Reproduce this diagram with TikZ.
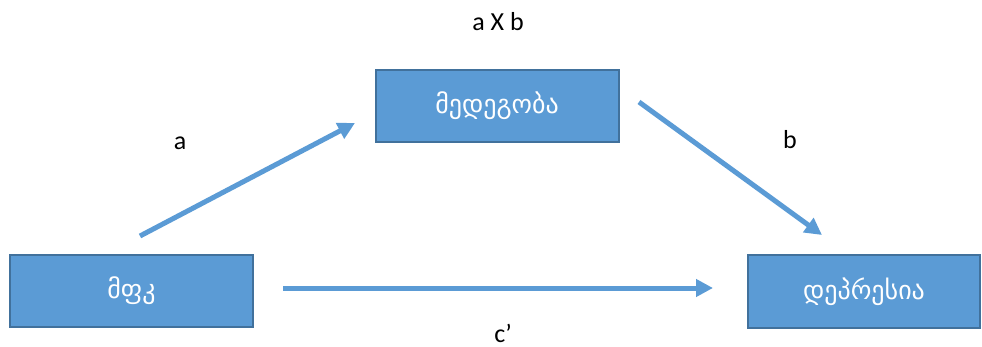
\documentclass[tikz,border=0pt]{standalone}
\usepackage{fontspec}
\setmainfont{Carlito}
\newfontfamily\geofont{DejaVu Sans}
\usetikzlibrary{arrows.meta, positioning}
\definecolor{boxblue}{HTML}{5B9BD5}
\definecolor{edgeblue}{HTML}{41719C}

\begin{document}
\begin{tikzpicture}[x=1pt, y=-1pt,
  every node/.style={font=\fontsize{26}{30}\selectfont},
  varbox/.style={draw=edgeblue, line width=2pt, fill=boxblue, text=white,
                 minimum width=243pt, minimum height=72pt, inner sep=0pt,
                 font=\geofont\fontsize{26}{30}\selectfont},
  arr/.style={-{Triangle[length=17pt, width=17pt]}, line width=5pt, boxblue},
  lbl/.style={text=black},
]
\useasboundingbox (0,0) rectangle (982,347);

%% boxes
\node[varbox] (mfk)  at (131.5, 291) {მფკ};
\node[varbox] (resil) at (497, 106) {მედეგობა};
\node[varbox, minimum width=232pt] (depr) at (864, 291.5) {დეპრესია};

%% arrow end points
\coordinate (a1) at (140, 236);
\coordinate (a2) at (355, 123);
\coordinate (b1) at (639, 102);
\coordinate (b2) at (822, 235);
\coordinate (c1) at (283, 288);
\coordinate (c2) at (713, 288);

%% labels
\node[lbl] (lab) at (498, 22) {a X b};
\node[lbl] (la)  at (180, 143) {a};
\node[lbl] (lb)  at (790, 140) {b};
\node[lbl] (lc)  at (503, 333) {c’};

%% arrows
\draw[arr] (a1) -- (a2);
\draw[arr] (b1) -- (b2);
\draw[arr] (c1) -- (c2);

\end{tikzpicture}
\end{document}
